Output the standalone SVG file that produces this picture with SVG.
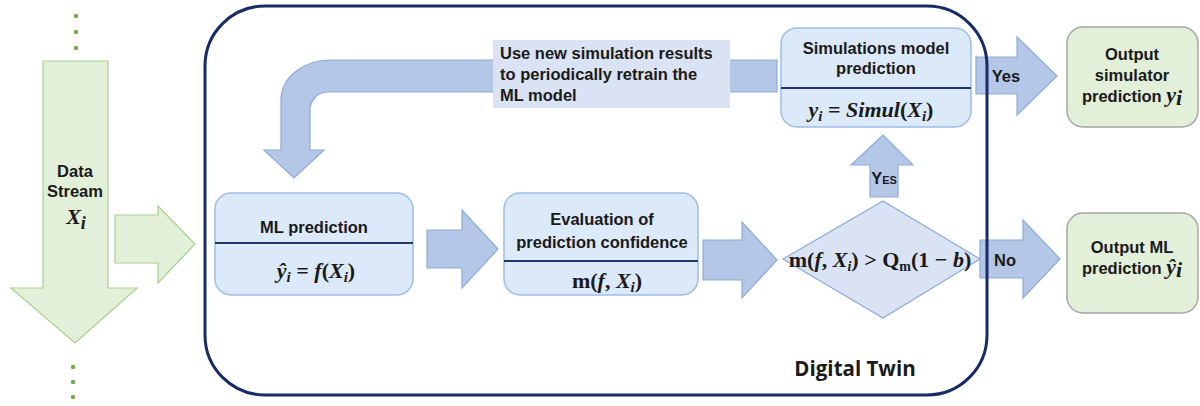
<svg xmlns="http://www.w3.org/2000/svg" width="1200" height="406" viewBox="0 0 1200 406">
<style>
.garrow{fill:#e2f0d9;stroke:#a9d18e;stroke-width:1.2}
.barrow{fill:#b4c7e7;stroke:#8eaadb;stroke-width:1.2}
.box{fill:#dce9f8;stroke:#9dbde6;stroke-width:1.5}
.div{stroke:#1f3864;stroke-width:2.2}
.out{fill:#e2efd9;stroke:#a6a6a6;stroke-width:1.5}
.t{font-family:"Liberation Sans",Arial,sans-serif;font-weight:bold;font-size:16.5px;fill:#1a1a1a;text-anchor:middle}
.m{font-family:"Liberation Serif","Times New Roman",serif;font-weight:bold;font-size:22px;fill:#1a1a1a;text-anchor:middle}
.i{font-style:italic}
.dot{fill:#70ad47}
</style>
<rect width="1200" height="406" fill="#ffffff"/>

<g id="data-stream">
<circle class="dot" cx="76" cy="16" r="2.2"/><circle class="dot" cx="76" cy="32" r="2.2"/><circle class="dot" cx="76" cy="48" r="2.2"/>
<path class="garrow" d="M43 61 L108 61 L108 288 L137 288 L75 343 L11 288 L43 288 Z"/>
<circle class="dot" cx="73" cy="367" r="2.2"/><circle class="dot" cx="73" cy="382" r="2.2"/><circle class="dot" cx="73" cy="397" r="2.2"/>
<text class="t" x="75" y="177" font-size="15.5">Data</text>
<text class="t" x="75" y="197" font-size="15.5">Stream</text>
<text class="m i" x="76" y="224" font-size="29">X<tspan font-size="18" dy="5">i</tspan></text>
</g>

<g id="connectors">
<path class="garrow" d="M115 215 L158 215 L158 206 L195 244 L158 283 L158 263 L115 263 Z"/>
<path class="barrow" d="M777 60 L330 60 A49 40 0 0 0 281 100 L281 150 L264 150 L294 178 L324 150 L310 150 L310 110 A18 18 0 0 1 328 92 L777 92 Z"/>
<path class="barrow" d="M427 230 L462 230 L462 210 L498 249 L462 288 L462 268 L427 268 Z"/>
<path class="barrow" d="M703 240 L742 240 L742 222 L777 260 L742 298 L742 280 L703 280 Z"/>
<path class="barrow" d="M870 197 L870 165 L851 165 L883 135 L913 165 L898 165 L898 197 Z"/>
<path class="barrow" d="M976 57 L1017 57 L1017 37 L1057 76 L1017 115 L1017 94 L976 94 Z"/>
<path class="barrow" d="M980 240 L1023 240 L1023 220 L1060 259 L1023 298 L1023 278 L980 278 Z"/>
<text class="t" x="1006" y="82" font-size="15.5">Yes</text>
<text class="t" x="1005" y="266" font-size="15.5">No</text>
<text class="t" x="884" y="184" font-size="14">Y<tspan font-size="11">ES</tspan></text>
</g>

<g id="retrain-label">
<rect x="493" y="40" width="237" height="68" fill="#dae3f3"/>
<text class="t" x="500" y="59" font-size="17" style="text-anchor:start">Use new simulation results</text>
<text class="t" x="500" y="80" font-size="17" style="text-anchor:start">to periodically retrain the</text>
<text class="t" x="500" y="101" font-size="17" style="text-anchor:start">ML model</text>
</g>

<g id="ml-prediction">
<rect class="box" x="215" y="193" width="198" height="102" rx="16"/>
<line class="div" x1="215" y1="243" x2="413" y2="243"/>
<text class="t" x="314" y="233">ML prediction</text>
<text class="m" x="316" y="278"><tspan class="i">ŷ</tspan><tspan class="i" font-size="15" dy="4">i</tspan><tspan dy="-4"> = </tspan><tspan class="i">f</tspan>(<tspan class="i">X</tspan><tspan class="i" font-size="15" dy="4">i</tspan><tspan dy="-4">)</tspan></text>
</g>

<g id="evaluation">
<rect class="box" x="504" y="193" width="194" height="102" rx="16"/>
<line class="div" x1="504" y1="261" x2="698" y2="261"/>
<text class="t" x="602" y="225">Evaluation of</text>
<text class="t" x="602" y="248">prediction confidence</text>
<text class="m" x="607" y="288">m(<tspan class="i">f</tspan>, <tspan class="i">X</tspan><tspan class="i" font-size="15" dy="4">i</tspan><tspan dy="-4">)</tspan></text>
</g>

<g id="decision">
<path d="M783 259 L883 201 L980 259 L883 318 Z" fill="#dae3f3" stroke="#8eaadb" stroke-width="1.2"/>
<text class="m" x="880" y="267" font-size="21">m(<tspan class="i">f</tspan>, <tspan class="i">X</tspan><tspan class="i" font-size="14" dy="4">i</tspan><tspan dy="-4">) &gt; Q</tspan><tspan font-size="14" dy="4">m</tspan><tspan dy="-4">(1 − </tspan><tspan class="i">b</tspan>)</text>
</g>

<g id="simulation">
<rect class="box" x="781" y="28" width="190" height="99" rx="16"/>
<line class="div" x1="781" y1="88" x2="971" y2="88"/>
<text class="t" x="876" y="54">Simulations model</text>
<text class="t" x="876" y="74">prediction</text>
<text class="m" x="871" y="117"><tspan class="i">y</tspan><tspan class="i" font-size="15" dy="4">i</tspan><tspan dy="-4"> = </tspan><tspan class="i">Simul</tspan>(<tspan class="i">X</tspan><tspan class="i" font-size="15" dy="4">i</tspan><tspan dy="-4">)</tspan></text>
</g>

<g id="output-simulator">
<rect class="out" x="1067" y="27" width="131" height="100" rx="16"/>
<text class="t" x="1132" y="60" font-size="17">Output</text>
<text class="t" x="1132" y="81" font-size="17">simulator</text>
<text class="t" x="1132" y="102" font-size="17">prediction <tspan class="m i" font-size="18">y</tspan><tspan class="m i" font-size="12" dy="3">i</tspan></text>
</g>

<g id="output-ml">
<rect class="out" x="1067" y="213" width="131" height="100" rx="16"/>
<text class="t" x="1132" y="253" font-size="17">Output ML</text>
<text class="t" x="1132" y="274" font-size="17">prediction <tspan class="m i" font-size="18">ŷ</tspan><tspan class="m i" font-size="12" dy="3">i</tspan></text>
</g>

<g id="digital-twin">
<rect x="205" y="6" width="782" height="389" rx="60" fill="none" stroke="#172c66" stroke-width="3"/>
<text x="855" y="376" font-family="'Open Sans','Liberation Sans',sans-serif" font-weight="bold" font-size="20.5" fill="#1a1a1a" text-anchor="middle">Digital Twin</text>
</g>
</svg>
